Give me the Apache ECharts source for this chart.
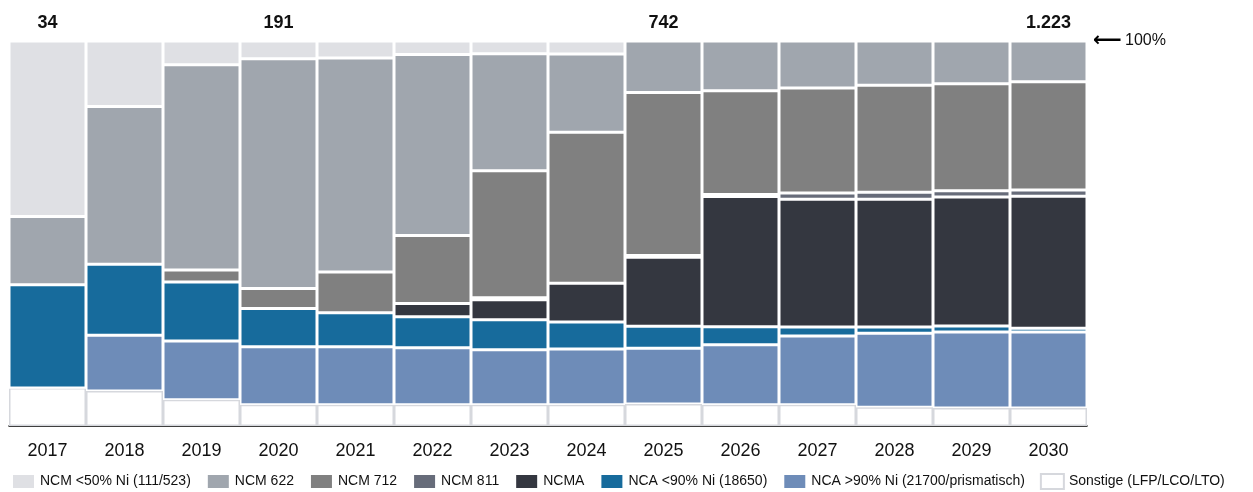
<!DOCTYPE html>
<html>
<head>
<meta charset="utf-8">
<script src="https://cdn.jsdelivr.net/npm/echarts@6/dist/echarts.min.js"></script>
<style>
  html, body { margin: 0; padding: 0; background: #fff; }
  #chart { width: 1253px; height: 492px; }
</style>
</head>
<body>
<div id="chart"></div>
<script>
// Anteile in Prozent je Jahr
const years = ['2017', '2018', '2019', '2020', '2021', '2022', '2023', '2024', '2025', '2026', '2027', '2028', '2029', '2030']
const totals = ['34', '', '', '191', '', '', '', '', '742', '', '', '', '', '1.223']

const sonstige = [9.9, 9.1, 6.8, 5.5, 5.5, 5.5, 5.5, 5.5, 5.7, 5.5, 5.5, 4.9, 4.7, 4.7]
const ncaHigh = [0, 14.5, 15.3, 15.1, 15.1, 14.8, 14.3, 14.5, 14.5, 15.6, 17.9, 19.2, 19.7, 19.7]
const ncaLow = [26.8, 18.4, 15.3, 9.9, 8.8, 8.1, 7.8, 7.0, 5.7, 4.7, 2.3, 1.6, 1.6, 1.0]
const ncma = [0, 0, 0, 0, 0, 3.4, 5.2, 10.1, 17.9, 33.8, 33.2, 33.2, 33.5, 34.3]
const ncm811 = [0, 0, 0, 0, 0, 0, 0.5, 0, 0.5, 0.5, 1.6, 1.8, 1.6, 1.6]
const ncm712 = [0, 0, 3.1, 5.2, 10.6, 17.7, 33.0, 39.2, 42.3, 27.0, 27.3, 27.8, 27.8, 28.1]
const ncm622 = [17.7, 41.0, 53.3, 59.7, 55.6, 47.0, 30.4, 20.3, 13.4, 12.9, 12.2, 11.5, 11.1, 10.6]
const ncmLow = [45.6, 17.0, 6.2, 4.6, 4.4, 3.5, 3.3, 3.4, 0, 0, 0, 0, 0, 0]

const font = "'Liberation Sans', Arial, sans-serif"

function seg(name, data, color, border) {
  return {
    name: name,
    type: 'bar',
    stack: 'total',
    barCategoryGap: '0%',
    data: data,
    itemStyle: {
      color: color,
      borderColor: border || '#ffffff',
      borderWidth: 1.5
    },
    emphasis: { disabled: true }
  }
}

const chart = echarts.init(document.getElementById('chart'))
chart.setOption({
  animation: false,
  textStyle: { fontFamily: font },
  grid: { left: 9, right: 166, top: 41, bottom: 66 },
  legend: {
    left: 6,
    top: 468,
    itemWidth: 23,
    itemHeight: 15,
    itemGap: 15,
    icon: 'rect',
    textStyle: { fontSize: 14, color: '#111', fontFamily: font },
    data: [
      'NCM <50% Ni (111/523)', 'NCM 622', 'NCM 712', 'NCM 811', 'NCMA',
      'NCA <90% Ni (18650)', 'NCA >90% Ni (21700/prismatisch)', 'Sonstige (LFP/LCO/LTO)'
    ]
  },
  xAxis: [
    {
      type: 'category',
      data: years,
      axisTick: { show: false },
      axisLine: { lineStyle: { color: '#000', width: 1.5 } },
      axisLabel: { fontSize: 18, color: '#111', margin: 16, interval: 0 }
    },
    {
      type: 'category',
      position: 'top',
      data: years,
      axisTick: { show: false },
      axisLine: { show: false },
      axisLabel: {
        interval: 0,
        margin: 9,
        fontSize: 18,
        fontWeight: 'bold',
        color: '#111',
        formatter: function (v, i) { return totals[i] }
      }
    }
  ],
  yAxis: {
    type: 'value',
    position: 'right',
    min: 0,
    max: 100,
    interval: 100,
    splitLine: { show: false },
    axisLine: { show: false },
    axisTick: { show: false },
    axisLabel: {
      margin: 6,
      formatter: function (v) { return v === 100 ? '{a|⟵} {b|100%}' : '' },
      rich: {
        a: { fontFamily: 'DejaVu Sans', fontSize: 20, color: '#000', fontWeight: 'bold' },
        b: { fontFamily: font, fontSize: 16, color: '#111' }
      }
    }
  },
  series: [
    seg('Sonstige (LFP/LCO/LTO)', sonstige, '#ffffff', '#d6d8dd'),
    seg('NCA >90% Ni (21700/prismatisch)', ncaHigh, '#6e8cb8'),
    seg('NCA <90% Ni (18650)', ncaLow, '#176b9c'),
    seg('NCMA', ncma, '#343740'),
    seg('NCM 811', ncm811, '#676c7a'),
    seg('NCM 712', ncm712, '#808080'),
    seg('NCM 622', ncm622, '#a0a6ae'),
    seg('NCM <50% Ni (111/523)', ncmLow, '#dfe0e4')
  ]
})
</script>
</body>
</html>
